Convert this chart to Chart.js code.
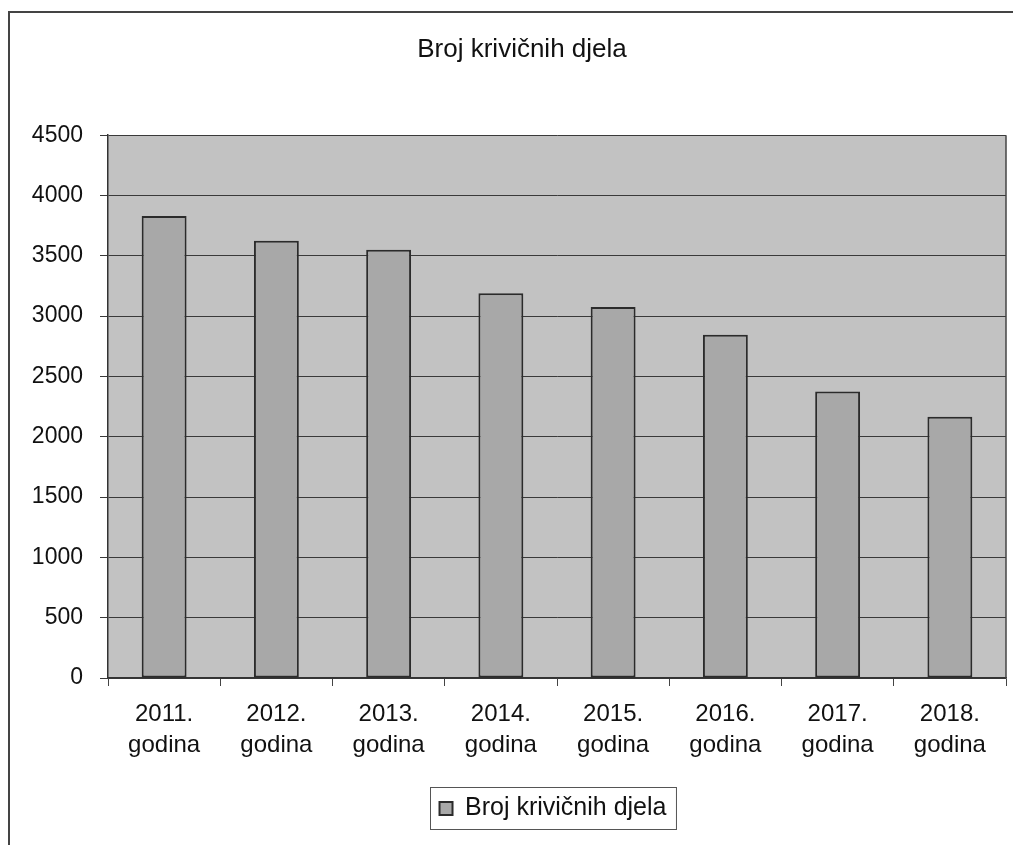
<!DOCTYPE html>
<html>
<head>
<meta charset="utf-8">
<script src="https://cdn.jsdelivr.net/npm/chart.js@4.4.0/dist/chart.umd.min.js"></script>
<style>
	html, body { margin: 0; padding: 0; background: #fff; }
	#wrap { width: 1013px; height: 845px; }
</style>
</head>
<body>
<div id="wrap"><canvas id="krivicna-djela" width="1013" height="845"></canvas></div>
<script>
const godine = ["2011.", "2012.", "2013.", "2014.", "2015.", "2016.", "2017.", "2018."];
const brojDjela = [3830, 3625, 3550, 3190, 3075, 2845, 2375, 2165];
const nazivSerije = "Broj krivičnih djela";

// okvir oko cijele slike, pozadina plot area i okvir legende
const okviri = {
	id: 'okviri',
	afterLayout(chart) {
		// naslov i legenda u originalu nisu tocno na sredini
		chart.titleBlock.left += 19;
		chart.titleBlock.right += 19;
		chart.legend.left += 50;
		chart.legend.right += 50;
		chart.legend.legendHitBoxes.forEach(h => { h.left += 50; });
	},
	beforeDraw(chart) {
		const ctx = chart.ctx;
		const a = chart.chartArea;
		ctx.save();
		ctx.fillStyle = '#fff';
		ctx.fillRect(0, 0, chart.width, chart.height);
		ctx.fillStyle = '#c2c2c2';
		ctx.fillRect(a.left, a.top, a.right - a.left, a.bottom - a.top);
		ctx.restore();
	},
	afterDraw(chart) {
		const ctx = chart.ctx;
		const a = chart.chartArea;
		const l = chart.legend;
		ctx.save();
		ctx.strokeStyle = '#444';
		ctx.lineWidth = 2;
		ctx.beginPath();
		ctx.moveTo(9, 900);
		ctx.lineTo(9, 12);
		ctx.lineTo(1020, 12);
		ctx.stroke();
		// desni rub plot area
		ctx.lineWidth = 1.5;
		ctx.beginPath();
		ctx.moveTo(a.right, a.top);
		ctx.lineTo(a.right, a.bottom);
		ctx.stroke();
		ctx.lineWidth = 1;
		ctx.strokeStyle = '#555';
		const item = l.legendHitBoxes[0];
		ctx.strokeRect(Math.round(item.left) - 9.5, Math.round(item.top) - 8.5, item.width + 19, item.height + 17);
		ctx.restore();
	}
};

new Chart(document.getElementById('krivicna-djela'), {
	type: 'bar',
	data: {
		labels: godine.map(g => [g, 'godina']),
		datasets: [{
			label: nazivSerije,
			data: brojDjela,
			backgroundColor: '#a8a8a8',
			borderColor: '#2b2b2b',
			borderWidth: 2,
			borderSkipped: false,
			categoryPercentage: 0.8,
			barPercentage: 0.5
		}]
	},
	options: {
		responsive: false,
		animation: false,
		layout: { padding: { left: 0, right: 7, top: 0, bottom: 14 } },
		plugins: {
			title: {
				display: true,
				text: 'Broj krivičnih djela',
				color: '#111',
				font: { family: 'Liberation Sans', size: 26, weight: 'normal' },
				padding: { top: 34, bottom: 70 }
			},
			legend: {
				position: 'bottom',
				labels: {
					color: '#111',
					font: { family: 'Liberation Sans', size: 25 },
					boxWidth: 13,
					boxHeight: 13,
					padding: 10
				}
			},
			tooltip: { enabled: false }
		},
		scales: {
			x: {
				grid: { offset: true, drawOnChartArea: false, color: '#444', tickLength: 8 },
				border: { color: '#333', width: 1.5 },
				ticks: {
					color: '#111',
					font: { family: 'Liberation Sans', size: 24, lineHeight: 1.3 },
					maxRotation: 0,
					padding: 13
				},
				afterFit(s) { s.height = 108; }
			},
			y: {
				min: 0,
				max: 4500,
				ticks: {
					stepSize: 500,
					color: '#111',
					font: { family: 'Liberation Sans', size: 23 },
					padding: 17,
					callback: v => String(v)
				},
				grid: { color: '#3a3a3a', tickLength: 8 },
				border: { color: '#333', width: 1.5 },
				afterFit(s) { s.width = 108; }
			}
		}
	},
	plugins: [okviri]
});
</script>
</body>
</html>
